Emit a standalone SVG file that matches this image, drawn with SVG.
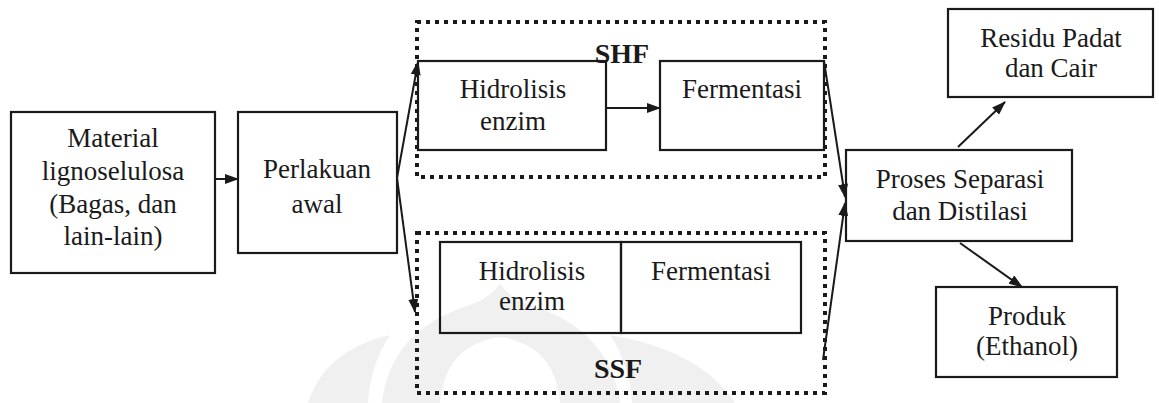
<svg xmlns="http://www.w3.org/2000/svg" width="1159" height="403" viewBox="0 0 1159 403">
<style>
.box{fill:none;stroke:#1a1a1a;stroke-width:2.2}
.dot{fill:none;stroke:#1a1a1a;stroke-width:4;stroke-dasharray:4 5}
.t{font-family:"Liberation Serif",serif;font-size:27px;fill:#1a1a1a;text-anchor:middle}
.b{font-family:"Liberation Serif",serif;font-size:28px;font-weight:bold;fill:#1a1a1a;text-anchor:middle}
.c{fill:none;stroke:#1a1a1a;stroke-width:2;marker-end:url(#ah)}
</style>
<defs>
<marker id="ah" markerUnits="userSpaceOnUse" markerWidth="14" markerHeight="10" refX="13" refY="5" orient="auto">
<path d="M0,0 L14,5 L0,10 z" fill="#1a1a1a"/>
</marker>
</defs>
<rect width="1159" height="403" fill="#fff"/>
<g id="watermark" fill="#f0f0f0">
<path d="M308 403 Q325 350 390 335 Q370 365 368 403 Z"/>
<path d="M382 403 Q390 330 470 305 Q490 298 500 284 Q510 298 530 305 Q610 330 620 403 L560 403 Q555 345 500 337 Q445 345 440 403 Z"/>
<path d="M632 403 Q630 365 610 335 Q700 350 735 403 Z"/>
</g>
<g id="shf-group">
<rect class="dot" x="417" y="22" width="408" height="155"/>
<text class="b" x="622" y="63">SHF</text>
</g>
<g id="ssf-group">
<rect class="dot" x="417" y="233" width="408" height="160"/>
<text class="b" x="618" y="378">SSF</text>
</g>
<g id="material">
<rect class="box" x="11" y="112" width="204" height="161"/>
<text class="t" x="113" y="147">Material</text>
<text class="t" x="113" y="180">lignoselulosa</text>
<text class="t" x="113" y="213">(Bagas, dan</text>
<text class="t" x="113" y="245">lain-lain)</text>
</g>
<g id="perlakuan">
<rect class="box" x="238" y="112" width="159" height="141"/>
<text class="t" x="317" y="178">Perlakuan</text>
<text class="t" x="317" y="213">awal</text>
</g>
<g id="shf-hidrolisis">
<rect class="box" x="418" y="61" width="188" height="89"/>
<text class="t" x="513" y="98">Hidrolisis</text>
<text class="t" x="513" y="130">enzim</text>
</g>
<g id="shf-fermentasi">
<rect class="box" x="660" y="61" width="164" height="89"/>
<text class="t" x="742" y="98">Fermentasi</text>
</g>
<g id="ssf-hidrolisis">
<rect class="box" x="440" y="242" width="181" height="91"/>
<text class="t" x="532" y="280">Hidrolisis</text>
<text class="t" x="532" y="310">enzim</text>
</g>
<g id="ssf-fermentasi">
<rect class="box" x="621" y="242" width="180" height="91"/>
<text class="t" x="711" y="280">Fermentasi</text>
</g>
<g id="proses">
<rect class="box" x="846" y="150" width="226" height="91"/>
<text class="t" x="960" y="188">Proses Separasi</text>
<text class="t" x="960" y="220">dan Distilasi</text>
</g>
<g id="residu">
<rect class="box" x="948" y="9" width="205" height="88"/>
<text class="t" x="1051" y="47">Residu Padat</text>
<text class="t" x="1051" y="77">dan Cair</text>
</g>
<g id="produk">
<rect class="box" x="936" y="287" width="181" height="90"/>
<text class="t" x="1027" y="325">Produk</text>
<text class="t" x="1027" y="355">(Ethanol)</text>
</g>
<g id="connectors">
<line class="c" x1="215" y1="179" x2="238" y2="179"/>
<line class="c" x1="397" y1="178" x2="418" y2="62"/>
<line class="c" x1="397" y1="178" x2="415" y2="312"/>
<line class="c" x1="606" y1="108" x2="660" y2="108"/>
<line class="c" x1="824" y1="61" x2="845" y2="197"/>
<line class="c" x1="823" y1="360" x2="845" y2="203"/>
<line class="c" x1="958" y1="147" x2="1005" y2="102"/>
<line class="c" x1="960" y1="243" x2="1022" y2="287"/>
</g>
</svg>
